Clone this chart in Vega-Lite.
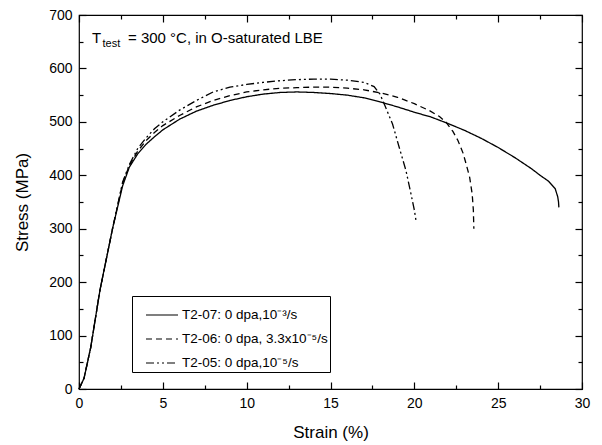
{
  "$schema": "https://vega.github.io/schema/vega-lite/v6.json",
  "width": 503,
  "height": 374,
  "autosize": {"type": "none"},
  "padding": {"left": 79, "top": 15, "right": 20, "bottom": 56},
  "background": "white",
  "config": {
    "font": "Liberation Sans",
    "view": {"stroke": "black", "strokeWidth": 1.2},
    "axis": {"grid": false, "domain": false, "labelColor": "black", "titleColor": "black", "tickColor": "black", "labelFont": "Liberation Sans", "titleFont": "Liberation Sans", "labelFontSize": 14, "titleFontSize": 17, "titleFontWeight": "normal", "tickWidth": 1.2, "labelFlush": false}
  },
  "resolve": {"axis": {"x": "independent", "y": "independent"}},
  "datasets": {
    "curves": [
      {"strain": 0, "stress": 0, "series": "T2-07: 0 dpa,10⁻³/s"},
      {"strain": 0.3, "stress": 20, "series": "T2-07: 0 dpa,10⁻³/s"},
      {"strain": 0.7, "stress": 78, "series": "T2-07: 0 dpa,10⁻³/s"},
      {"strain": 1.25, "stress": 185, "series": "T2-07: 0 dpa,10⁻³/s"},
      {"strain": 2, "stress": 300, "series": "T2-07: 0 dpa,10⁻³/s"},
      {"strain": 2.6, "stress": 380, "series": "T2-07: 0 dpa,10⁻³/s"},
      {"strain": 3, "stress": 415, "series": "T2-07: 0 dpa,10⁻³/s"},
      {"strain": 3.5, "stress": 440, "series": "T2-07: 0 dpa,10⁻³/s"},
      {"strain": 4, "stress": 458, "series": "T2-07: 0 dpa,10⁻³/s"},
      {"strain": 4.5, "stress": 472, "series": "T2-07: 0 dpa,10⁻³/s"},
      {"strain": 5, "stress": 485, "series": "T2-07: 0 dpa,10⁻³/s"},
      {"strain": 6, "stress": 505, "series": "T2-07: 0 dpa,10⁻³/s"},
      {"strain": 7, "stress": 520, "series": "T2-07: 0 dpa,10⁻³/s"},
      {"strain": 8, "stress": 531, "series": "T2-07: 0 dpa,10⁻³/s"},
      {"strain": 9, "stress": 540, "series": "T2-07: 0 dpa,10⁻³/s"},
      {"strain": 10, "stress": 547, "series": "T2-07: 0 dpa,10⁻³/s"},
      {"strain": 11, "stress": 552, "series": "T2-07: 0 dpa,10⁻³/s"},
      {"strain": 12, "stress": 555, "series": "T2-07: 0 dpa,10⁻³/s"},
      {"strain": 13, "stress": 556, "series": "T2-07: 0 dpa,10⁻³/s"},
      {"strain": 14, "stress": 555, "series": "T2-07: 0 dpa,10⁻³/s"},
      {"strain": 15, "stress": 553, "series": "T2-07: 0 dpa,10⁻³/s"},
      {"strain": 16, "stress": 550, "series": "T2-07: 0 dpa,10⁻³/s"},
      {"strain": 17, "stress": 545, "series": "T2-07: 0 dpa,10⁻³/s"},
      {"strain": 18, "stress": 537, "series": "T2-07: 0 dpa,10⁻³/s"},
      {"strain": 19, "stress": 528, "series": "T2-07: 0 dpa,10⁻³/s"},
      {"strain": 20, "stress": 518, "series": "T2-07: 0 dpa,10⁻³/s"},
      {"strain": 21, "stress": 509, "series": "T2-07: 0 dpa,10⁻³/s"},
      {"strain": 22, "stress": 497, "series": "T2-07: 0 dpa,10⁻³/s"},
      {"strain": 23, "stress": 484, "series": "T2-07: 0 dpa,10⁻³/s"},
      {"strain": 24, "stress": 469, "series": "T2-07: 0 dpa,10⁻³/s"},
      {"strain": 25, "stress": 452, "series": "T2-07: 0 dpa,10⁻³/s"},
      {"strain": 26, "stress": 433, "series": "T2-07: 0 dpa,10⁻³/s"},
      {"strain": 27, "stress": 412, "series": "T2-07: 0 dpa,10⁻³/s"},
      {"strain": 27.5, "stress": 400, "series": "T2-07: 0 dpa,10⁻³/s"},
      {"strain": 28, "stress": 389, "series": "T2-07: 0 dpa,10⁻³/s"},
      {"strain": 28.4, "stress": 375, "series": "T2-07: 0 dpa,10⁻³/s"},
      {"strain": 28.55, "stress": 360, "series": "T2-07: 0 dpa,10⁻³/s"},
      {"strain": 28.6, "stress": 350, "series": "T2-07: 0 dpa,10⁻³/s"},
      {"strain": 28.62, "stress": 340, "series": "T2-07: 0 dpa,10⁻³/s"},

      {"strain": 0, "stress": 0, "series": "T2-06: 0 dpa, 3.3x10⁻⁵/s"},
      {"strain": 0.3, "stress": 20, "series": "T2-06: 0 dpa, 3.3x10⁻⁵/s"},
      {"strain": 0.7, "stress": 78, "series": "T2-06: 0 dpa, 3.3x10⁻⁵/s"},
      {"strain": 1.25, "stress": 185, "series": "T2-06: 0 dpa, 3.3x10⁻⁵/s"},
      {"strain": 2, "stress": 300, "series": "T2-06: 0 dpa, 3.3x10⁻⁵/s"},
      {"strain": 2.6, "stress": 385, "series": "T2-06: 0 dpa, 3.3x10⁻⁵/s"},
      {"strain": 3, "stress": 418, "series": "T2-06: 0 dpa, 3.3x10⁻⁵/s"},
      {"strain": 3.5, "stress": 445, "series": "T2-06: 0 dpa, 3.3x10⁻⁵/s"},
      {"strain": 4, "stress": 465, "series": "T2-06: 0 dpa, 3.3x10⁻⁵/s"},
      {"strain": 4.5, "stress": 480, "series": "T2-06: 0 dpa, 3.3x10⁻⁵/s"},
      {"strain": 5, "stress": 493, "series": "T2-06: 0 dpa, 3.3x10⁻⁵/s"},
      {"strain": 6, "stress": 512, "series": "T2-06: 0 dpa, 3.3x10⁻⁵/s"},
      {"strain": 7, "stress": 528, "series": "T2-06: 0 dpa, 3.3x10⁻⁵/s"},
      {"strain": 8, "stress": 540, "series": "T2-06: 0 dpa, 3.3x10⁻⁵/s"},
      {"strain": 9, "stress": 549, "series": "T2-06: 0 dpa, 3.3x10⁻⁵/s"},
      {"strain": 10, "stress": 556, "series": "T2-06: 0 dpa, 3.3x10⁻⁵/s"},
      {"strain": 11, "stress": 560, "series": "T2-06: 0 dpa, 3.3x10⁻⁵/s"},
      {"strain": 12, "stress": 563, "series": "T2-06: 0 dpa, 3.3x10⁻⁵/s"},
      {"strain": 13, "stress": 564, "series": "T2-06: 0 dpa, 3.3x10⁻⁵/s"},
      {"strain": 14, "stress": 565, "series": "T2-06: 0 dpa, 3.3x10⁻⁵/s"},
      {"strain": 15, "stress": 565, "series": "T2-06: 0 dpa, 3.3x10⁻⁵/s"},
      {"strain": 16, "stress": 563, "series": "T2-06: 0 dpa, 3.3x10⁻⁵/s"},
      {"strain": 17, "stress": 560, "series": "T2-06: 0 dpa, 3.3x10⁻⁵/s"},
      {"strain": 18, "stress": 554, "series": "T2-06: 0 dpa, 3.3x10⁻⁵/s"},
      {"strain": 19, "stress": 546, "series": "T2-06: 0 dpa, 3.3x10⁻⁵/s"},
      {"strain": 20, "stress": 534, "series": "T2-06: 0 dpa, 3.3x10⁻⁵/s"},
      {"strain": 20.9, "stress": 521, "series": "T2-06: 0 dpa, 3.3x10⁻⁵/s"},
      {"strain": 21.5, "stress": 510, "series": "T2-06: 0 dpa, 3.3x10⁻⁵/s"},
      {"strain": 21.9, "stress": 499, "series": "T2-06: 0 dpa, 3.3x10⁻⁵/s"},
      {"strain": 22.3, "stress": 482, "series": "T2-06: 0 dpa, 3.3x10⁻⁵/s"},
      {"strain": 22.6, "stress": 465, "series": "T2-06: 0 dpa, 3.3x10⁻⁵/s"},
      {"strain": 22.9, "stress": 442, "series": "T2-06: 0 dpa, 3.3x10⁻⁵/s"},
      {"strain": 23.1, "stress": 420, "series": "T2-06: 0 dpa, 3.3x10⁻⁵/s"},
      {"strain": 23.3, "stress": 396, "series": "T2-06: 0 dpa, 3.3x10⁻⁵/s"},
      {"strain": 23.45, "stress": 365, "series": "T2-06: 0 dpa, 3.3x10⁻⁵/s"},
      {"strain": 23.52, "stress": 335, "series": "T2-06: 0 dpa, 3.3x10⁻⁵/s"},
      {"strain": 23.55, "stress": 300, "series": "T2-06: 0 dpa, 3.3x10⁻⁵/s"},

      {"strain": 0, "stress": 0, "series": "T2-05: 0 dpa,10⁻⁵/s"},
      {"strain": 0.3, "stress": 20, "series": "T2-05: 0 dpa,10⁻⁵/s"},
      {"strain": 0.7, "stress": 78, "series": "T2-05: 0 dpa,10⁻⁵/s"},
      {"strain": 1.25, "stress": 185, "series": "T2-05: 0 dpa,10⁻⁵/s"},
      {"strain": 2, "stress": 300, "series": "T2-05: 0 dpa,10⁻⁵/s"},
      {"strain": 2.6, "stress": 387, "series": "T2-05: 0 dpa,10⁻⁵/s"},
      {"strain": 3, "stress": 420, "series": "T2-05: 0 dpa,10⁻⁵/s"},
      {"strain": 3.5, "stress": 450, "series": "T2-05: 0 dpa,10⁻⁵/s"},
      {"strain": 4, "stress": 470, "series": "T2-05: 0 dpa,10⁻⁵/s"},
      {"strain": 4.5, "stress": 487, "series": "T2-05: 0 dpa,10⁻⁵/s"},
      {"strain": 5, "stress": 500, "series": "T2-05: 0 dpa,10⁻⁵/s"},
      {"strain": 6, "stress": 522, "series": "T2-05: 0 dpa,10⁻⁵/s"},
      {"strain": 7, "stress": 540, "series": "T2-05: 0 dpa,10⁻⁵/s"},
      {"strain": 8, "stress": 556, "series": "T2-05: 0 dpa,10⁻⁵/s"},
      {"strain": 9, "stress": 565, "series": "T2-05: 0 dpa,10⁻⁵/s"},
      {"strain": 10, "stress": 570, "series": "T2-05: 0 dpa,10⁻⁵/s"},
      {"strain": 11, "stress": 574, "series": "T2-05: 0 dpa,10⁻⁵/s"},
      {"strain": 12, "stress": 577, "series": "T2-05: 0 dpa,10⁻⁵/s"},
      {"strain": 13, "stress": 579, "series": "T2-05: 0 dpa,10⁻⁵/s"},
      {"strain": 14, "stress": 580, "series": "T2-05: 0 dpa,10⁻⁵/s"},
      {"strain": 15, "stress": 580, "series": "T2-05: 0 dpa,10⁻⁵/s"},
      {"strain": 16, "stress": 578, "series": "T2-05: 0 dpa,10⁻⁵/s"},
      {"strain": 17, "stress": 574, "series": "T2-05: 0 dpa,10⁻⁵/s"},
      {"strain": 17.6, "stress": 566, "series": "T2-05: 0 dpa,10⁻⁵/s"},
      {"strain": 17.95, "stress": 552, "series": "T2-05: 0 dpa,10⁻⁵/s"},
      {"strain": 18.25, "stress": 530, "series": "T2-05: 0 dpa,10⁻⁵/s"},
      {"strain": 18.7, "stress": 496, "series": "T2-05: 0 dpa,10⁻⁵/s"},
      {"strain": 19.1, "stress": 452, "series": "T2-05: 0 dpa,10⁻⁵/s"},
      {"strain": 19.5, "stress": 409, "series": "T2-05: 0 dpa,10⁻⁵/s"},
      {"strain": 19.8, "stress": 365, "series": "T2-05: 0 dpa,10⁻⁵/s"},
      {"strain": 20.0, "stress": 335, "series": "T2-05: 0 dpa,10⁻⁵/s"},
      {"strain": 20.1, "stress": 315, "series": "T2-05: 0 dpa,10⁻⁵/s"}
    ],
    "origin": [{"strain": 0, "stress": 0}],
    "note": [{"k": 1}]
  },
  "layer": [
    {
      "data": {"name": "curves"},
      "mark": {"type": "line", "color": "black", "strokeWidth": 1.3},
      "encoding": {
        "x": {"field": "strain", "type": "quantitative", "scale": {"domain": [0, 30], "nice": false, "zero": false},
              "axis": {"orient": "bottom", "values": [0, 5, 10, 15, 20, 25, 30], "ticks": false, "labelPadding": 7, "title": "Strain (%)", "titlePadding": 14}},
        "y": {"field": "stress", "type": "quantitative", "scale": {"domain": [0, 700], "nice": false, "zero": false},
              "axis": {"orient": "left", "values": [0, 100, 200, 300, 400, 500, 600, 700], "ticks": false, "labelPadding": 7, "title": "Stress (MPa)", "titlePadding": 17}},
        "strokeDash": {"field": "series", "type": "nominal",
          "scale": {"domain": ["T2-07: 0 dpa,10⁻³/s", "T2-06: 0 dpa, 3.3x10⁻⁵/s", "T2-05: 0 dpa,10⁻⁵/s"], "range": [[1, 0], [6, 4], [8, 3, 2, 3, 2, 3]]},
          "legend": {"orient": "none", "legendX": 53, "legendY": 281, "title": null, "strokeColor": "black", "fillColor": "white", "padding": 2,
                     "symbolOffset": 11, "symbolType": "stroke", "symbolSize": 1024, "symbolStrokeWidth": 1.2, "symbolStrokeColor": "black",
                     "labelFontSize": 13.5, "labelFont": "Liberation Sans", "labelColor": "black", "rowPadding": -11, "labelOffset": 3}}
      }
    },
    {
      "data": {"name": "origin"},
      "mark": {"type": "point", "opacity": 0},
      "encoding": {
        "x": {"field": "strain", "type": "quantitative", "axis": {"orient": "bottom", "values": [0, 5, 10, 15, 20, 25, 30], "labels": false, "ticks": true, "tickSize": 7, "offset": -7, "title": null}},
        "y": {"field": "stress", "type": "quantitative", "axis": {"orient": "left", "values": [0, 100, 200, 300, 400, 500, 600, 700], "labels": false, "ticks": true, "tickSize": 7, "offset": -7, "title": null}}
      }
    },
    {
      "data": {"name": "origin"},
      "mark": {"type": "point", "opacity": 0},
      "encoding": {
        "x": {"field": "strain", "type": "quantitative", "axis": {"orient": "bottom", "values": [2.5, 7.5, 12.5, 17.5, 22.5, 27.5], "labels": false, "ticks": true, "tickSize": 4, "offset": -4, "title": null}},
        "y": {"field": "stress", "type": "quantitative", "axis": {"orient": "left", "values": [50, 150, 250, 350, 450, 550, 650], "labels": false, "ticks": true, "tickSize": 4, "offset": -4, "title": null}}
      }
    },
    {
      "data": {"name": "origin"},
      "mark": {"type": "point", "opacity": 0},
      "encoding": {
        "x": {"field": "strain", "type": "quantitative", "axis": {"orient": "top", "values": [0, 5, 10, 15, 20, 25, 30], "labels": false, "ticks": true, "tickSize": 7, "offset": -7, "title": null}},
        "y": {"field": "stress", "type": "quantitative", "axis": {"orient": "right", "values": [0, 100, 200, 300, 400, 500, 600, 700], "labels": false, "ticks": true, "tickSize": 7, "offset": -7, "title": null}}
      }
    },
    {
      "data": {"name": "origin"},
      "mark": {"type": "point", "opacity": 0},
      "encoding": {
        "x": {"field": "strain", "type": "quantitative", "axis": {"orient": "top", "values": [2.5, 7.5, 12.5, 17.5, 22.5, 27.5], "labels": false, "ticks": true, "tickSize": 4, "offset": -4, "title": null}},
        "y": {"field": "stress", "type": "quantitative", "axis": {"orient": "right", "values": [50, 150, 250, 350, 450, 550, 650], "labels": false, "ticks": true, "tickSize": 4, "offset": -4, "title": null}}
      }
    },
    {
      "data": {"name": "note"},
      "mark": {"type": "text", "align": "left", "baseline": "alphabetic", "fontSize": 15, "font": "Liberation Sans", "color": "black"},
      "encoding": {
        "x": {"datum": 0.78, "type": "quantitative", "axis": null},
        "y": {"datum": 647, "type": "quantitative", "axis": null},
        "text": {"value": "T"}
      }
    },
    {
      "data": {"name": "note"},
      "mark": {"type": "text", "align": "left", "baseline": "alphabetic", "fontSize": 11, "font": "Liberation Sans", "color": "black"},
      "encoding": {
        "x": {"datum": 1.40, "type": "quantitative", "axis": null},
        "y": {"datum": 641, "type": "quantitative", "axis": null},
        "text": {"value": "test"}
      }
    },
    {
      "data": {"name": "note"},
      "mark": {"type": "text", "align": "left", "baseline": "alphabetic", "fontSize": 15, "font": "Liberation Sans", "color": "black"},
      "encoding": {
        "x": {"datum": 2.92, "type": "quantitative", "axis": null},
        "y": {"datum": 647, "type": "quantitative", "axis": null},
        "text": {"value": "= 300 °C, in O-saturated LBE"}
      }
    }
  ]
}
